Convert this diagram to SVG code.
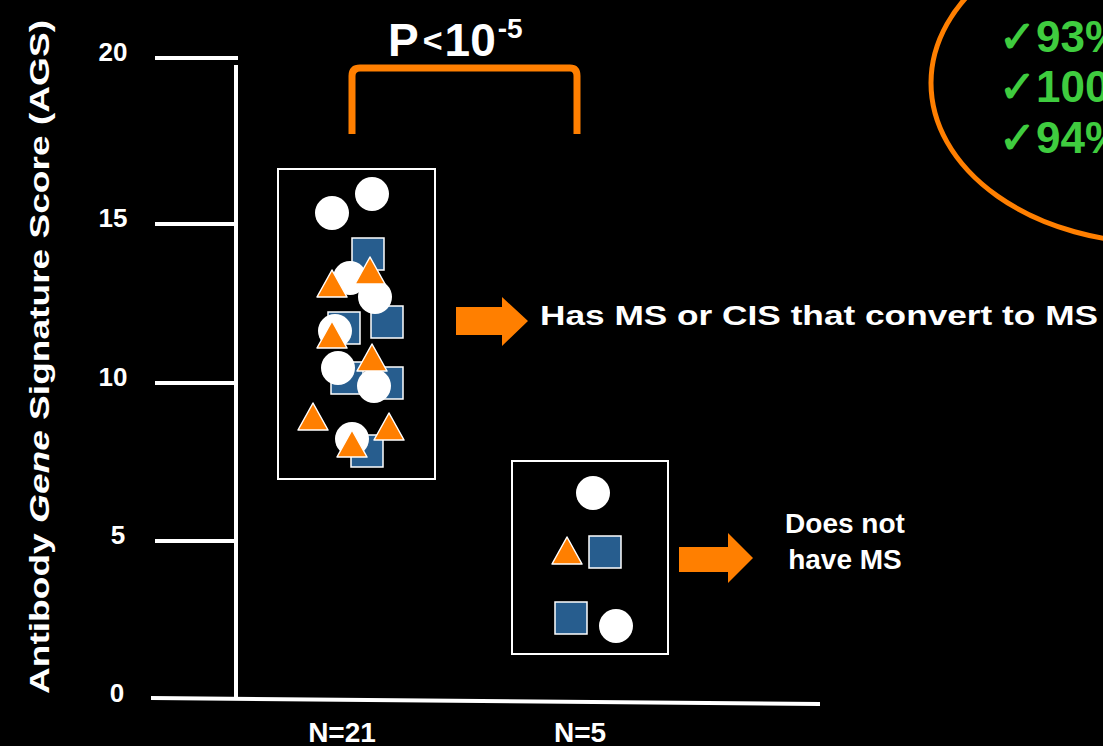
<svg xmlns="http://www.w3.org/2000/svg" xmlns:xlink="http://www.w3.org/1999/xlink" width="1103" height="746" viewBox="0 0 1103 746">
<style>
.t{font-family:"Liberation Sans",Arial,sans-serif;font-weight:bold;fill:#fff}
.ax{stroke:#fff;stroke-width:4;fill:none}
.box{fill:none;stroke:#fff;stroke-width:2}
.or{fill:#ff7f00}
.g{font-family:"Liberation Sans",Arial,sans-serif;font-weight:bold;fill:#3fcc3f}
</style>
<defs>
<circle id="c" r="17" fill="#fff"/>
<rect id="s" width="32" height="32" fill="#275d8e" stroke="#fff" stroke-width="1.5"/>
<path id="tr" d="M0,0 L15,27 L-15,27 Z" fill="#ff7f00" stroke="#fff" stroke-width="1.5" stroke-linejoin="round"/>
</defs>
<rect width="1103" height="746" fill="#000"/>

<g id="axes">
<line class="ax" x1="236" y1="65" x2="236" y2="700"/>
<line class="ax" x1="155" y1="58" x2="238" y2="58"/>
<line class="ax" x1="155" y1="224" x2="238" y2="224"/>
<line class="ax" x1="155" y1="383" x2="238" y2="383"/>
<line class="ax" x1="155" y1="541" x2="238" y2="541"/>
<line class="ax" x1="151" y1="698" x2="820" y2="704" stroke-width="5"/>
<text class="t" x="113" y="61" font-size="26" text-anchor="middle">20</text>
<text class="t" x="113" y="227" font-size="26" text-anchor="middle">15</text>
<text class="t" x="113" y="386" font-size="26" text-anchor="middle">10</text>
<text class="t" x="118" y="544" font-size="26" text-anchor="middle">5</text>
<text class="t" x="117" y="702" font-size="26" text-anchor="middle">0</text>
<text class="t" x="342" y="742" font-size="28" text-anchor="middle">N=21</text>
<text class="t" x="580" y="742" font-size="28" text-anchor="middle">N=5</text>
<text class="t" transform="translate(49,357) rotate(-90)" font-size="27" text-anchor="middle" textLength="674" lengthAdjust="spacingAndGlyphs">Antibody <tspan font-style="italic">Gene</tspan> Signature Score (AGS)</text>
</g>

<g id="pvalue">
<path d="M352,134 L352,76 Q352,68 360,68 L570,68 Q577,68 577,76 L577,134" fill="none" stroke="#ff7f00" stroke-width="7"/>
<text class="t" x="388" y="56" font-size="46">P<tspan font-size="34" dx="4" dy="-4">&lt;</tspan><tspan dx="2" dy="4">10</tspan><tspan font-size="28" dx="2" dy="-18">-5</tspan></text>
</g>

<g id="ellipse">
<ellipse cx="1158" cy="83" rx="227" ry="160" fill="none" stroke="#ff7f00" stroke-width="5"/>
<text class="g" x="999" y="52" font-size="44">✓93%</text>
<text class="g" x="999" y="102" font-size="44">✓100</text>
<text class="g" x="999" y="153" font-size="44">✓94%</text>
</g>

<g id="group1">
<rect class="box" x="278" y="169" width="157" height="310"/>
<use xlink:href="#s" x="352" y="238"/>
<use xlink:href="#s" x="328" y="312"/>
<use xlink:href="#s" x="371" y="306"/>
<use xlink:href="#s" x="331" y="362"/>
<use xlink:href="#s" x="371" y="367"/>
<use xlink:href="#s" x="351" y="435"/>
<use xlink:href="#c" x="332" y="213"/>
<use xlink:href="#c" x="372" y="194"/>
<use xlink:href="#c" x="350" y="278"/>
<use xlink:href="#c" x="375" y="297"/>
<use xlink:href="#c" x="335" y="331"/>
<use xlink:href="#c" x="338" y="368"/>
<use xlink:href="#c" x="374" y="386"/>
<use xlink:href="#c" x="352" y="439"/>
<use xlink:href="#tr" x="332" y="270"/>
<use xlink:href="#tr" x="370" y="257"/>
<use xlink:href="#tr" x="332" y="321"/>
<use xlink:href="#tr" x="372" y="344"/>
<use xlink:href="#tr" x="313" y="403"/>
<use xlink:href="#tr" x="352" y="430"/>
<use xlink:href="#tr" x="389" y="413"/>
</g>

<g id="group2">
<rect class="box" x="512" y="461" width="156" height="193"/>
<use xlink:href="#s" x="589" y="536"/>
<use xlink:href="#s" x="555" y="602"/>
<use xlink:href="#c" x="593" y="493"/>
<use xlink:href="#c" x="616" y="626"/>
<use xlink:href="#tr" x="567" y="537"/>
</g>

<g id="connectors">
<polygon class="or" points="456,307 502,307 502,297 528,321 502,346 502,335 456,335"/>
<polygon class="or" points="679,547 728,547 728,533 753,558 728,583 728,572 679,572"/>
</g>

<g id="label1">
<text class="t" x="540" y="325" font-size="27" textLength="558" lengthAdjust="spacingAndGlyphs">Has MS or CIS that convert to MS</text>
</g>
<g id="label2">
<text class="t" x="845" y="533" font-size="28" text-anchor="middle">Does not</text>
<text class="t" x="845" y="569" font-size="28" text-anchor="middle">have MS</text>
</g>
</svg>
